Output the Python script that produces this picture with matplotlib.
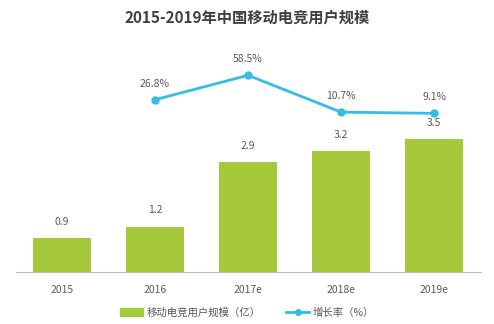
import matplotlib
matplotlib.use("Agg")
import matplotlib.pyplot as plt
from matplotlib.lines import Line2D
from matplotlib.patches import Patch

plt.rcParams['font.family'] = ['Noto Sans CJK SC', 'DejaVu Sans']

years = ['2015', '2016', '2017e', '2018e', '2019e']
users = [0.9, 1.2, 2.9, 3.2, 3.5]
growth_years = ['2016', '2017e', '2018e', '2019e']
growth = [26.8, 58.5, 10.7, 9.1]

bar_color = '#A5C93B'
line_color = '#35BDE3'
text_color = '#595959'

fig = plt.figure(figsize=(4.94, 3.24), dpi=100)
ax = fig.add_axes([0.0314, 0.160, 0.9413, 0.654])

x = list(range(len(years)))
ax.bar(x, users, width=0.62, color=bar_color, zorder=2)
for xi, v in zip(x, users):
    ax.annotate(f'{v:.1f}', (xi, v), xytext=(0, 8), textcoords='offset points',
                ha='center', va='bottom', fontsize=7.5, color=text_color)

ax.set_xlim(-0.5, len(years) - 0.5)
ax.set_ylim(0, 5.58)
ax.set_xticks(x)
ax.set_xticklabels(years, fontsize=7.5, color=text_color)
ax.tick_params(axis='x', length=0, pad=9)
ax.set_yticks([])
for s in ['top', 'right', 'left']:
    ax.spines[s].set_visible(False)
ax.spines['bottom'].set_color('#BFBFBF')

ax2 = ax.twinx()
gx = [years.index(y) for y in growth_years]
ax2.plot(gx, growth, color=line_color, lw=2, marker='o', ms=5, zorder=3)
for xi, v in zip(gx, growth):
    ax2.annotate(f'{v}%', (xi, v), xytext=(0, 8), textcoords='offset points',
                 ha='center', va='bottom', fontsize=7.5, color=text_color)
ax2.set_ylim(-197, 78)
ax2.set_yticks([])
for s in ax2.spines.values():
    s.set_visible(False)

fig.text(0.5, 0.945, '2015-2019年中国移动电竞用户规模', ha='center', va='center',
         fontsize=11, fontweight='bold', color='#404040')

handles = [Patch(color=bar_color),
           Line2D([0], [0], color=line_color, lw=2, marker='o', ms=4)]
fig.legend(handles, ['移动电竞用户规模（亿）', '增长率（%）'], loc='center',
           bbox_to_anchor=(0.5, 0.035), ncol=2, frameon=False, fontsize=7.5,
           labelcolor=text_color, handlelength=2.2, handleheight=0.9,
           columnspacing=2.5, handletextpad=0.3)

fig.savefig('out.png', dpi=100)
